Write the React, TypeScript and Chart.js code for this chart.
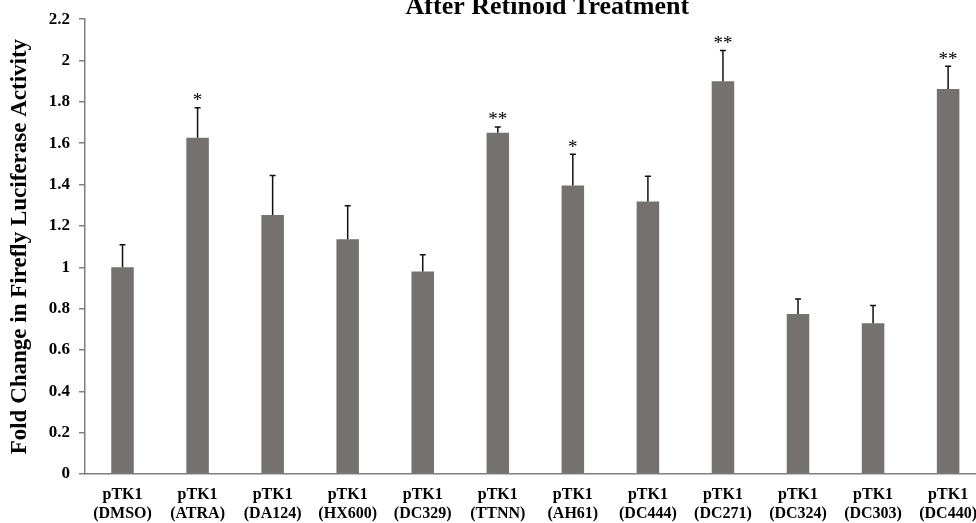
import { useEffect, useRef } from "react";
import { Chart, registerables } from "chart.js";

Chart.register(...registerables);

const titleText = "After Retinoid Treatment";
const yAxisTitle = "Fold Change in Firefly Luciferase Activity";
const labelPrefix = "pTK1";
const treatments = ["DMSO", "ATRA", "DA124", "HX600", "DC329", "TTNN", "AH61", "DC444", "DC271", "DC324", "DC303", "DC440"];
const foldChange = [1.0, 1.626, 1.253, 1.136, 0.979, 1.651, 1.395, 1.318, 1.9, 0.774, 0.729, 1.862];
const errorUpper = [0.109, 0.146, 0.191, 0.161, 0.082, 0.028, 0.152, 0.122, 0.148, 0.072, 0.086, 0.111];
const significance = ["", "*", "", "", "", "**", "*", "", "**", "", "", "**"];
const yMin = 0;
const yMax = 2.2;
const yStep = 0.2;

const SERIF = "'Liberation Serif', 'Times New Roman', serif";
const BAR_COLOR = "#767171";
const AXIS_COLOR = "#7f7f7f";

const overlayPlugin = {
  id: "overlay",
  afterDatasetsDraw(chart: any) {
    const { ctx, chartArea } = chart;
    const meta = chart.getDatasetMeta(0);
    const yScale = chart.scales.y;
    ctx.save();
    meta.data.forEach((bar: any, i: number) => {
      const x = bar.x;
      const yTop = yScale.getPixelForValue(foldChange[i] + errorUpper[i]);
      const yBase = yScale.getPixelForValue(foldChange[i]);
      ctx.strokeStyle = "#111";
      ctx.lineWidth = 1.5;
      ctx.beginPath();
      ctx.moveTo(x, yBase);
      ctx.lineTo(x, yTop);
      ctx.moveTo(x - 3, yTop);
      ctx.lineTo(x + 3, yTop);
      ctx.stroke();
      if (significance[i]) {
        ctx.fillStyle = "#000";
        ctx.font = `19px ${SERIF}`;
        ctx.textAlign = "center";
        ctx.textBaseline = "alphabetic";
        ctx.fillText(significance[i], x, yTop - 1.5);
      }
    });
    // chart title
    ctx.fillStyle = "#000";
    ctx.font = `bold 26px ${SERIF}`;
    ctx.textAlign = "center";
    ctx.textBaseline = "alphabetic";
    ctx.fillText(titleText, (chartArea.left + chartArea.right) / 2 + 12, chartArea.top - 5);
    ctx.restore();
  },
};

export default function App() {
  const canvasRef = useRef<HTMLCanvasElement | null>(null);

  useEffect(() => {
    if (!canvasRef.current) return;
    const chart = new Chart(canvasRef.current, {
      type: "bar",
      data: {
        labels: treatments.map((t) => [labelPrefix, `(${t})`]),
        datasets: [
          {
            data: foldChange,
            backgroundColor: BAR_COLOR,
            borderWidth: 0,
            barPercentage: 0.3,
            categoryPercentage: 1,
          },
        ],
      },
      options: {
        responsive: false,
        animation: false,
        devicePixelRatio: 1,
        layout: { padding: { top: 17, left: 0, right: 0, bottom: 0 } },
        plugins: {
          legend: { display: false },
          tooltip: { enabled: false },
          title: { display: false },
        },
        scales: {
          x: {
            offset: true,
            grid: { display: false, drawTicks: false },
            border: { display: true, color: AXIS_COLOR, width: 1.5 },
            ticks: {
              color: "#000",
              padding: 11,
              maxRotation: 0,
              autoSkip: false,
              font: { family: SERIF, size: 16, weight: "bold", lineHeight: 1.2 },
            },
            afterFit(scale: any) {
              scale.height = 49;
            },
          },
          y: {
            min: yMin,
            max: yMax,
            grid: {
              display: true,
              drawOnChartArea: false,
              drawTicks: true,
              tickLength: 6,
              color: AXIS_COLOR,
              lineWidth: 1.5,
            },
            border: { display: true, color: AXIS_COLOR, width: 1.5 },
            ticks: {
              stepSize: yStep,
              color: "#000",
              padding: 9,
              font: { family: SERIF, size: 17, weight: "bold" },
              callback: (v: any) => `${Math.round(Number(v) * 10) / 10}`,
            },
            title: {
              display: true,
              text: yAxisTitle,
              color: "#000",
              padding: { top: 6, bottom: 0 },
              font: { family: SERIF, size: 23, weight: "bold", lineHeight: 1.2 },
            },
            afterFit(scale: any) {
              scale.width = 85;
            },
          },
        },
      },
      plugins: [overlayPlugin],
    });
    return () => chart.destroy();
  }, []);

  return (
    <div style={{ position: "absolute", left: 0, top: 0, width: 976, height: 523, overflow: "hidden", background: "#fff" }}>
      <canvas ref={canvasRef} width={988} height={523} style={{ display: "block", width: 988, height: 523 }} />
    </div>
  );
}
